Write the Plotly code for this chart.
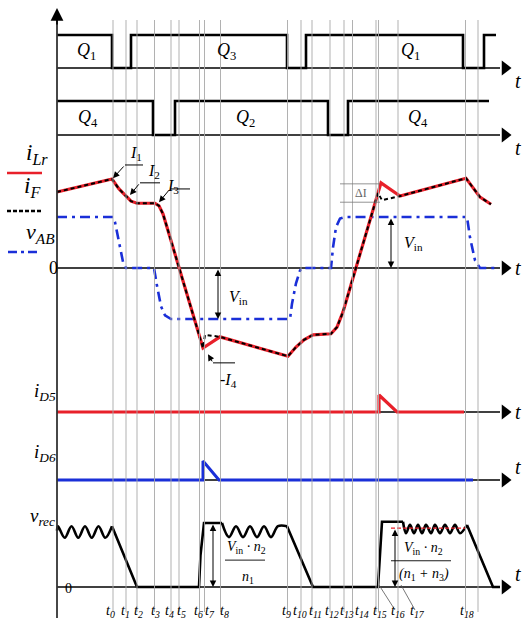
import plotly.graph_objects as go

# ---------------- DATA ----------------
# switching instants t0..t19 (time units, origin at the vertical axis)
t_marks = [56, 69, 80, 97.5, 114, 122, 142.5, 147.5, 163.5, 230.5, 244, 255,
           273, 287, 295.5, 319, 321.5, 341, 408.5, 421]
t_labels = ["t<sub>0</sub>", "t<sub>1</sub>", "t<sub>2</sub>", "t<sub>3</sub>", "t<sub>4</sub>",
            "t<sub>5</sub>", "t<sub>6</sub>", "t<sub>7</sub>", "t<sub>8</sub>", "t<sub>9</sub>",
            "t<sub>10</sub>", "t<sub>11</sub>", "t<sub>12</sub>", "t<sub>13</sub>", "t<sub>14</sub>",
            "t<sub>15</sub>", "t<sub>16</sub>", "t<sub>17</sub>", "t<sub>18</sub>"]

# gate signals (step, hv)
g13_t = [0, 55, 74, 230, 249, 406, 427, 439]
g13_v = [1, 0, 1, 0, 1, 0, 1, 1]
g42_t = [0, 96, 118, 271, 291, 432]
g42_v = [1, 0, 1, 0, 1, 1]

# v_AB
vab_t = [0, 56, 58, 62, 66, 69, 97, 100, 104, 108, 114, 233, 235, 239, 243, 245,
         274, 276, 279, 283, 288, 410, 413, 418, 423, 439]
vab_v = [1, 1, 0.9, 0.5, 0.12, 0, 0, -0.35, -0.75, -0.93, -1, -1, -0.7, -0.3, -0.05, 0,
         0, 0.4, 0.8, 0.97, 1, 1, 0.6, 0.15, 0, 0]

# i_Lr (resonant current)
ilr_t = [0, 55, 62, 69, 74, 80, 98, 102, 106, 110, 146, 163, 231, 239, 247, 256, 274,
         280, 286, 324, 343, 409, 417, 423, 434]
ilr_v = [1.49, 1.745, 1.55, 1.41, 1.31, 1.27, 1.27, 1.22, 1.06, 0.80, -1.57, -1.35,
         -1.73, -1.55, -1.41, -1.31, -1.29, -1.16, -0.86, 1.67, 1.41, 1.76, 1.55, 1.39, 1.25]

# i_F
if_t = [0, 55, 62, 69, 74, 80, 98, 102, 106, 110, 146, 148, 163, 231, 239, 247, 256, 274,
        280, 286, 321, 325, 343, 409, 417, 423, 434]
if_v = [1.49, 1.745, 1.55, 1.41, 1.31, 1.27, 1.27, 1.22, 1.06, 0.80, -1.57, -1.31, -1.35,
        -1.73, -1.55, -1.41, -1.31, -1.29, -1.16, -0.86, 1.47, 1.33, 1.41, 1.76, 1.55, 1.39, 1.25]

# diode currents
id5_t = [0, 322, 322, 340, 407]
id5_v = [0, 0, 1, 0, 0]
id6_t = [0, 146, 146, 162, 416]
id6_v = [0, 0, 1, 0, 0]

# rectified voltage v_rec
vrec_t = [0, 1, 7.75, 14.5, 21.25, 28, 34.75, 41.5, 48.25, 55,
          80, 142, 143.5, 147, 165,
          172, 179, 186, 193, 200, 207, 214, 221, 230,
          256, 321, 325, 346,
          349, 353, 357, 361, 365, 369, 374, 378, 383, 388, 393, 398, 403, 410,
          436, 443]
vrec_v = [0.88, 0.95, 0.77, 0.95, 0.77, 0.95, 0.77, 0.95, 0.77, 0.95,
          0, 0, 0.5, 1.0, 1.0,
          0.78, 0.95, 0.78, 0.95, 0.78, 0.95, 0.78, 0.95, 0.95,
          0, 0, 1.02, 1.02,
          0.84, 0.97, 0.84, 0.97, 0.84, 0.97, 0.84, 0.97, 0.84, 0.97, 0.84, 0.97, 0.84, 0.97,
          0, 0]

# ---------------- STYLE / LAYOUT ----------------
W, H = 526, 634
X0 = 57          # pixel of time origin
RED = "#e8202a"
BLUE = "#1a2fd8"
FONT = "Liberation Serif"

# panels: (baseline pixel, pixel per unit)
panels = {"y": (68, 33), "y2": (135, 34), "y3": (268, 51),
          "y4": (412, 17), "y5": (480, 19), "y6": (587, 64)}

def py(p):  # pixel y -> paper
    return 1 - p / H

fig = go.Figure()

def add(x, y, ax, color, width, dash="solid", shape="linear", mode="lines"):
    fig.add_trace(go.Scatter(x=x, y=y, yaxis=ax, mode=mode,
                             line=dict(color=color, width=width, dash=dash, shape=shape),
                             hoverinfo="skip", showlegend=False))

AX_END = 443
# horizontal axes with arrows
for ax in panels:
    add([0, AX_END], [0, 0], ax, "black", 1.6)
    fig.add_trace(go.Scatter(x=[AX_END + 5], y=[0], yaxis=ax, mode="markers",
                             marker=dict(symbol="triangle-right", size=13, color="black"),
                             hoverinfo="skip", showlegend=False))

# signals
add(g13_t, g13_v, "y", "black", 2.6, shape="hv")
add(g42_t, g42_v, "y2", "black", 2.6, shape="hv")
add(vab_t, vab_v, "y3", BLUE, 2.6, dash="10px,5px,3px,5px")
add(ilr_t, ilr_v, "y3", RED, 3.2)
add(if_t, if_v, "y3", "black", 2.0, dash="4px,3px")
add(id5_t, id5_v, "y4", RED, 3.2)
add(id6_t, id6_v, "y5", BLUE, 3.0)
add(vrec_t[:10], vrec_v[:10], "y6", "black", 2.6, shape="spline")
add(vrec_t[9:15], vrec_v[9:15], "y6", "black", 2.6)
add(vrec_t[14:24], vrec_v[14:24], "y6", "black", 2.6, shape="spline")
add(vrec_t[23:28], vrec_v[23:28], "y6", "black", 2.6)
add(vrec_t[27:42], vrec_v[27:42], "y6", "black", 2.6, shape="spline")
add(vrec_t[41:], vrec_v[41:], "y6", "black", 2.6)
# red dashed reference level on v_rec
add([334, 409], [0.92, 0.92], "y6", RED, 1.2, dash="4px,2px")

shapes = []
# vertical gray instants
for t in t_marks:
    shapes.append(dict(type="line", xref="x", yref="paper", x0=t, x1=t,
                       y0=py(612), y1=py(20), line=dict(color="#a8a8a8", width=0.9)))
# main vertical axis
shapes.append(dict(type="line", xref="x", yref="paper", x0=0, x1=0, y0=py(618), y1=py(18),
                   line=dict(color="#333", width=1.8)))
# legend lines
shapes.append(dict(type="line", xref="paper", yref="paper", x0=7 / W, x1=42 / W,
                   y0=py(173), y1=py(173), line=dict(color=RED, width=2.5)))
shapes.append(dict(type="line", xref="paper", yref="paper", x0=7 / W, x1=42 / W,
                   y0=py(211), y1=py(211), line=dict(color="black", width=2.5, dash="4px,2px")))
shapes.append(dict(type="line", xref="paper", yref="paper", x0=8 / W, x1=40 / W,
                   y0=py(252), y1=py(252), line=dict(color=BLUE, width=2.5, dash="9px,4px,3px,4px")))
# leader horizontals for I1, I2, I3, -I4
for (xa, xb, yv) in [(68, 86, 2.02), (83, 103, 1.67), (113, 133, 1.55), (156, 178, -1.86)]:
    shapes.append(dict(type="line", xref="x", yref="y3", x0=xa, x1=xb, y0=yv, y1=yv,
                       line=dict(color="black", width=1)))
# delta I lines
for yv in [1.65, 1.29]:
    shapes.append(dict(type="line", xref="x", yref="y3", x0=283, x1=323, y0=yv, y1=yv,
                       line=dict(color="#777", width=0.8)))
# fraction bars
shapes.append(dict(type="line", xref="x", yref="y6", x0=168, x1=208, y0=0.42, y1=0.42,
                   line=dict(color="black", width=0.9)))
shapes.append(dict(type="line", xref="x", yref="y6", x0=334, x1=394, y0=0.41, y1=0.41,
                   line=dict(color="black", width=0.9)))
# leader lines to t16, t17 labels
shapes.append(dict(type="line", xref="x", yref="paper", x0=322, x1=338, y0=py(585), y1=py(610),
                   line=dict(color="#555", width=0.8)))
shapes.append(dict(type="line", xref="x", yref="paper", x0=344, x1=358, y0=py(585), y1=py(610),
                   line=dict(color="#555", width=0.8)))

ann = []
def text(x, y, s, size=16, xref="x", yref="paper", color="black", italic=True):
    ann.append(dict(x=x, y=y, xref=xref, yref=yref, text=(f"<i>{s}</i>" if italic else s),
                    showarrow=False, font=dict(family=FONT, size=size, color=color)))

def arrow(x, y, ax_, ay_, yref, both=False):
    ann.append(dict(x=x, y=y, ax=ax_, ay=ay_, xref="x", yref=yref, axref="x", ayref=yref,
                    text="", showarrow=True, arrowhead=2, arrowsize=1.3, arrowwidth=1,
                    arrowside="end+start" if both else "end", arrowcolor="black",
                    startarrowhead=2, startarrowsize=1.3))

# top arrow of vertical axis
ann.append(dict(x=0, y=py(8), ax=0, ay=18, xref="x", yref="paper", axref="pixel", ayref="pixel",
                text="", showarrow=True, arrowhead=2, arrowsize=1.6, arrowwidth=1.6, arrowcolor="black"))

# "t" at axis ends
for ax, (b, _) in panels.items():
    text(518 - X0, py(b), "t", 20)

# gate labels
text(29, 0.5, "Q</i><sub>1</sub><i>", 18, yref="y")
text(169, 0.5, "Q</i><sub>3</sub><i>", 18, yref="y")
text(353, 0.5, "Q</i><sub>1</sub><i>", 18, yref="y")
text(31, 0.5, "Q</i><sub>4</sub><i>", 18, yref="y2")
text(188, 0.5, "Q</i><sub>2</sub><i>", 18, yref="y2")
text(361, 0.5, "Q</i><sub>4</sub><i>", 18, yref="y2")

# left labels
text(24 / W, py(138), "i</i><sub><i>Lr</i></sub><i>", 23, xref="paper")
text(22 / W, py(171), "i</i><sub><i>F</i></sub><i>", 23, xref="paper")
text(24 / W, py(233), "v</i><sub><i>AB</i></sub><i>", 22, xref="paper")
text(47 / W, py(268), "0", 18, xref="paper", italic=False)
text(32 / W, py(392), "i</i><sub><i>D5</i></sub><i>", 19, xref="paper")
text(32 / W, py(467), "i</i><sub><i>D6</i></sub><i>", 19, xref="paper")
text(28 / W, py(531), "v</i><sub><i>rec</i></sub><i>", 19, xref="paper")
text(63 / W, py(598), "0", 14, xref="paper", italic=False)

# current level labels and leaders
text(79, 2.24, "I</i><sub>1</sub><i>", 16, yref="y3")
text(97, 1.9, "I</i><sub>2</sub><i>", 16, yref="y3")
text(116, 1.6, "I</i><sub>3</sub><i>", 16, yref="y3")
text(171, -2.2, "-I</i><sub>4</sub><i>", 16, yref="y3")
arrow(56, 1.76, 68, 2.02, "y3")
arrow(73, 1.43, 83, 1.67, "y3")
arrow(102, 1.29, 113, 1.55, "y3")
arrow(151, -1.69, 156, -1.86, "y3")
text(304, 1.47, "ΔI", 12, yref="y3", color="#666", italic=False)

# V_in arrows
arrow(161, -1, 161, 0, "y3", both=True)
text(181, -0.57, "V</i><sub>in</sub><i>", 16, yref="y3")
arrow(334, 0, 334, 1, "y3", both=True)
text(356, 0.49, "V</i><sub>in</sub><i>", 16, yref="y3")

# v_rec magnitudes
arrow(156, 0, 156, 1, "y6", both=True)
text(189, 0.62, "V</i><sub>in</sub><i> · n</i><sub>2</sub><i>", 14, yref="y6")
text(191, 0.15, "n</i><sub>1</sub><i>", 14, yref="y6")
arrow(338, 0, 338, 0.92, "y6", both=True)
text(366, 0.6, "V</i><sub>in</sub><i> · n</i><sub>2</sub><i>", 14, yref="y6")
text(367, 0.2, "(n</i><sub>1</sub><i> + n</i><sub>3</sub><i>)", 14, yref="y6")

# bottom time labels
lab_px = [110, 125, 138, 155, 169, 181, 198, 210, 224, 286, 300, 315, 332, 347, 362,
          380, 398, 417, 467]
for p, s in zip(lab_px, t_labels):
    text(p - X0, py(622), s, 14)

layout = dict(width=W, height=H, margin=dict(l=0, r=0, t=0, b=0),
              paper_bgcolor="white", plot_bgcolor="white", showlegend=False,
              xaxis=dict(range=[-X0, W - X0], visible=False, fixedrange=True),
              shapes=shapes, annotations=ann)
for i, (ax, (b, u)) in enumerate(panels.items()):
    key = "yaxis" if ax == "y" else "yaxis" + ax[1:]
    d = dict(range=[(b - H) / u, b / u], visible=False, domain=[0, 1], fixedrange=True)
    if ax != "y":
        d["overlaying"] = "y"
    layout[key] = d
fig.update_layout(**layout)
fig.write_html("out.html", config={"displayModeBar": False},
               post_script="document.body.style.margin='0';document.body.style.overflow='hidden';")
